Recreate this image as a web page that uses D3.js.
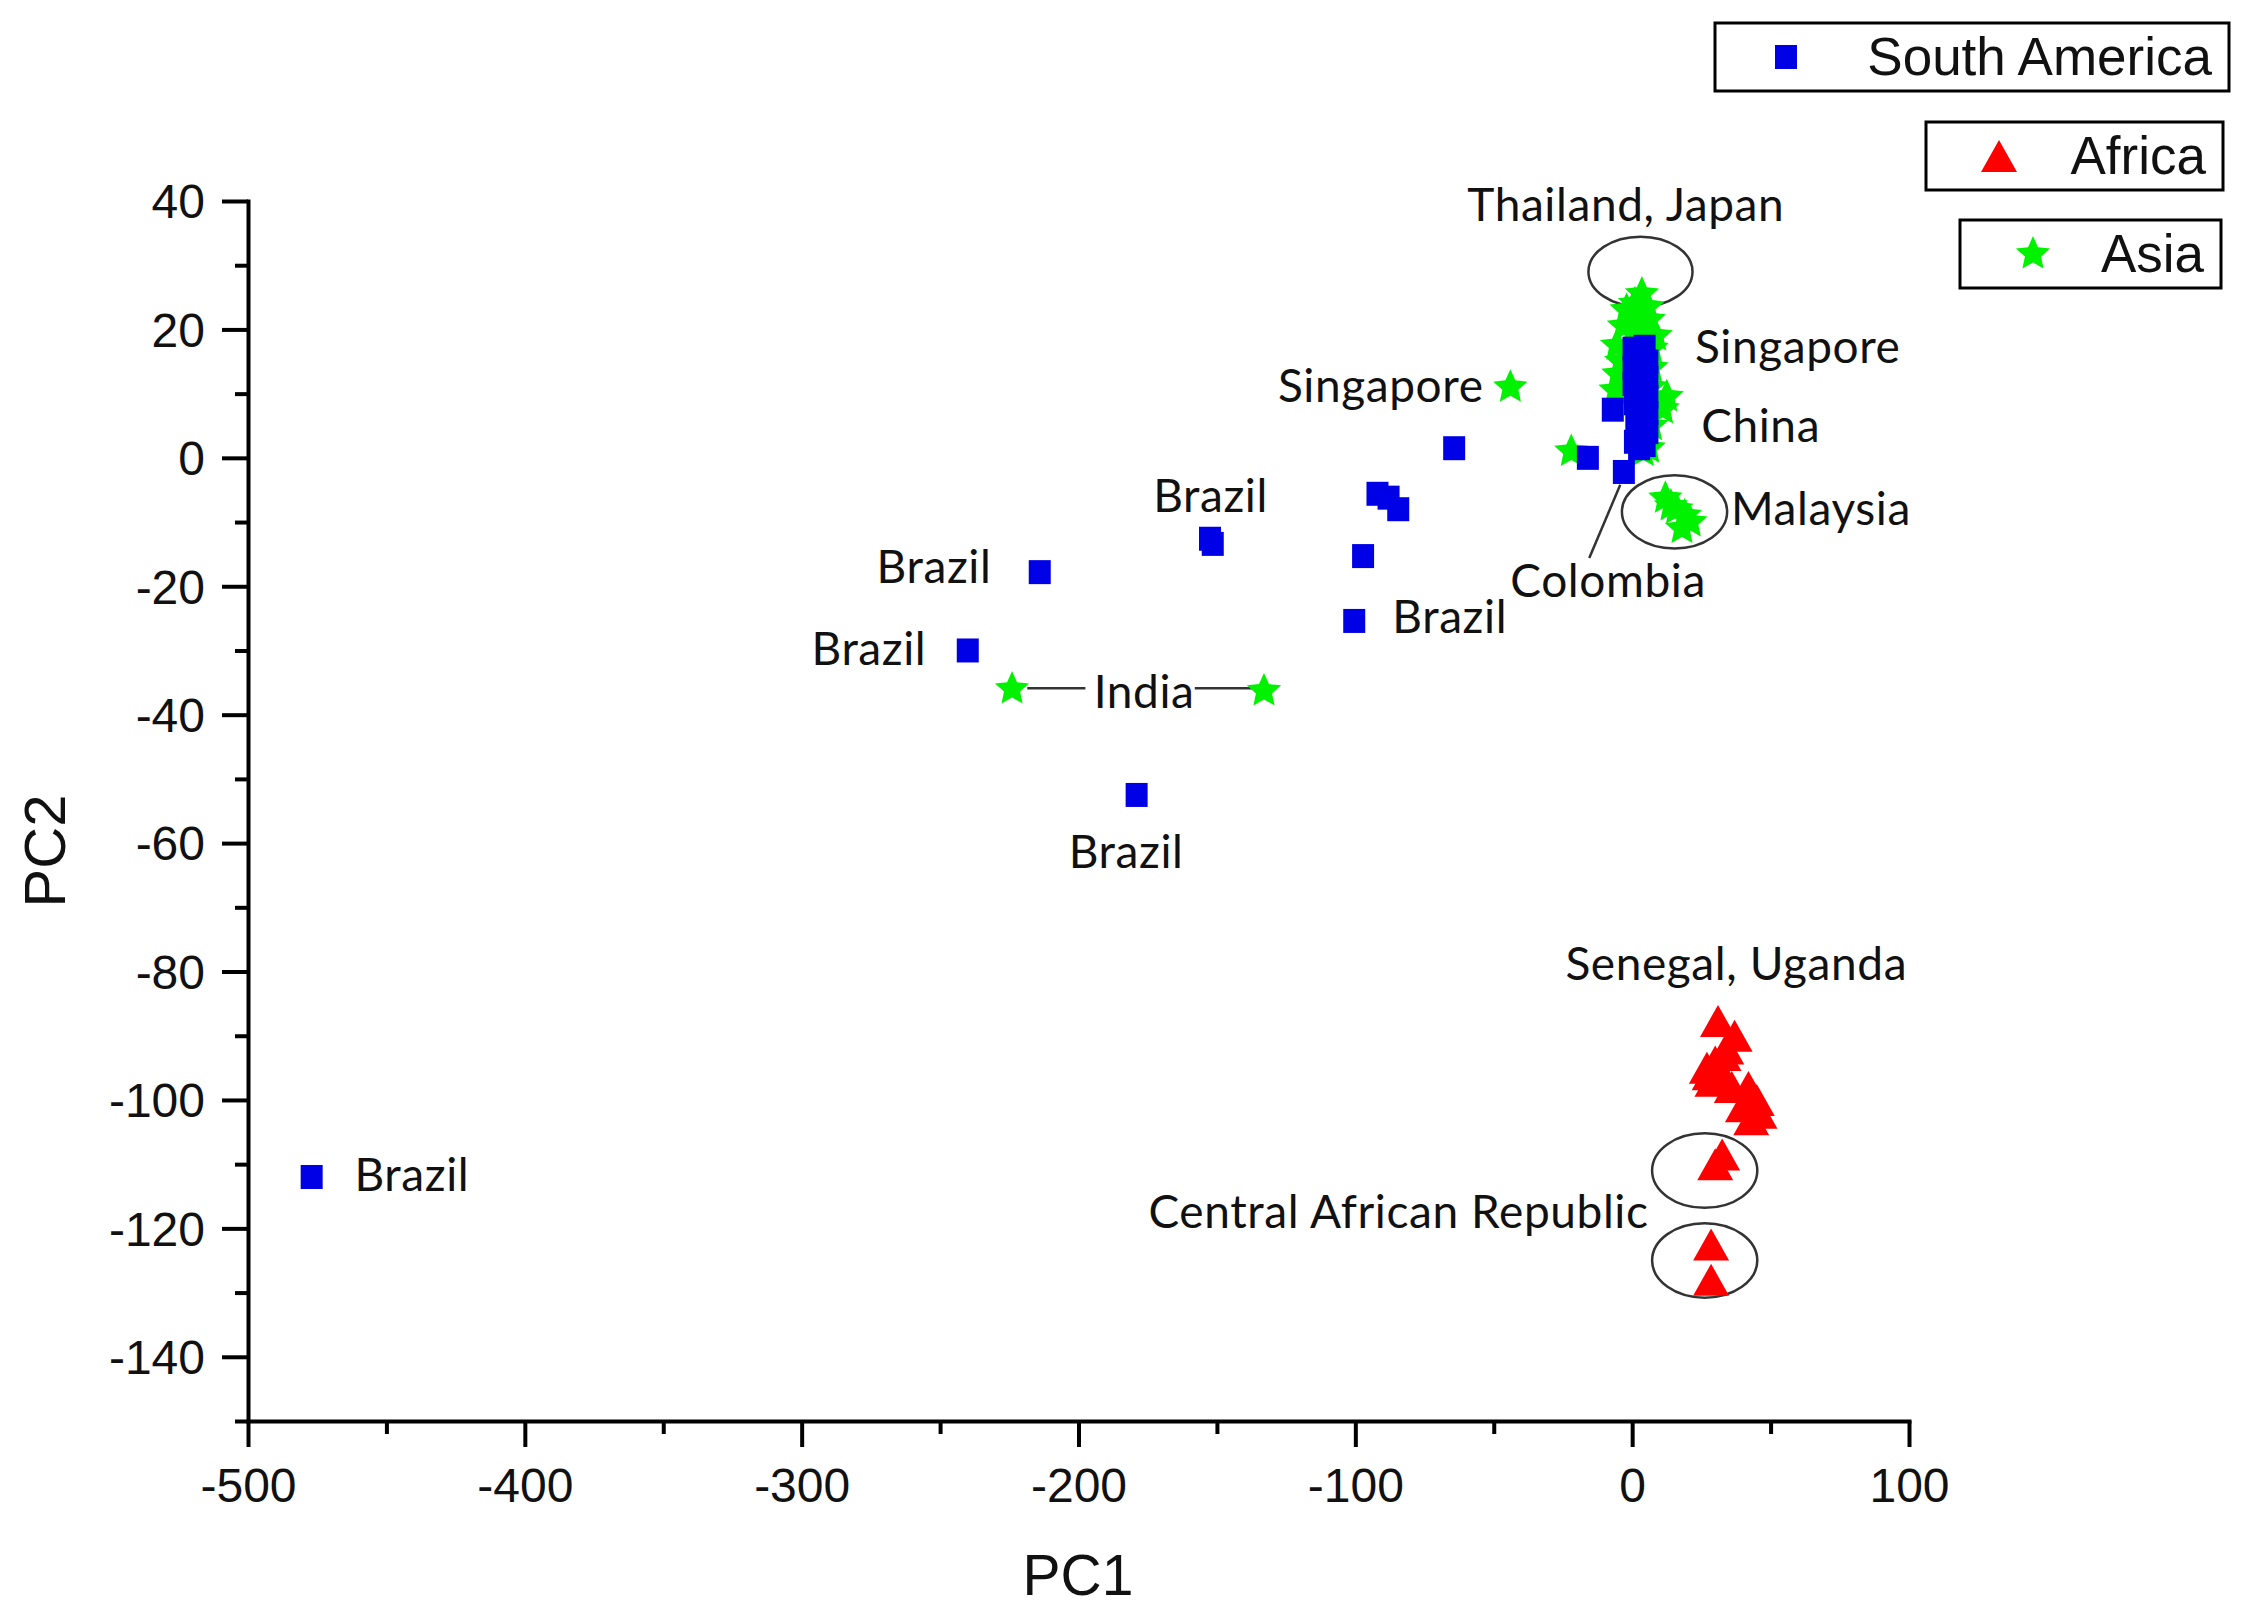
<!DOCTYPE html>
<html>
<head>
<meta charset="utf-8">
<script src="https://cdn.jsdelivr.net/npm/d3@7/dist/d3.min.js"></script>
<style>
  body { margin: 0; background: #fff; }
  .tick text { font-family: "Liberation Sans", Arial, sans-serif; }
</style>
</head>
<body>
<svg id="chart" width="2250" height="1619"></svg>
<script>
// PC1 / PC2 scores
var southAmerica = [
  [-477, -112], [-240, -30], [-214, -17.8], [-179, -52.5],
  [-152.5, -12.6], [-151.5, -13.4], [-100.4, -25.4], [-97.2, -15.3],
  [-92, -5.6], [-88, -6.2], [-84.5, -8], [-64.3, 1.5],
  [-16, 0], [-3, -2.2], [-7, 7.5],
  [0.5, 17], [4.5, 17.3], [2, 15.5], [5.5, 15], [0.5, 14], [3, 13], [5.5, 12.5],
  [0.5, 11.5], [4, 11], [2, 10], [5.5, 9.5], [1, 8.5], [3, 8], [5.5, 7],
  [1.5, 6], [4, 5.5], [2, 4.5], [5.5, 4], [3, 3], [1, 2.5], [4.5, 2], [2.5, 1.5]
];
var africa = [
  [31, -87.7], [37, -90], [34, -92], [30, -94], [27, -95], [29, -97],
  [32, -96], [36, -98], [42, -98], [45, -100], [40, -101], [46, -102],
  [43, -103], [33, -93], [28, -96],
  [32.5, -108.5], [30, -110],
  [28.5, -122.5], [28.5, -128]
];
var asia = [
  [-44, 11], [-22, 1], [-224, -36], [-133, -36.3],
  [12, -6.3], [16, -8], [19, -9], [18, -11], [21, -10], [14, -7.5],
  [3.5, 25.5], [1, 24], [5.5, 23.5], [-2, 23], [2, 22], [6, 21.5],
  [-3, 20.5], [0.5, 20], [4, 19.5], [-5.5, 17.5], [7, 17], [-4, 15],
  [7, 14], [-5, 13], [-6, 10.5], [6.5, 11], [12.5, 9.5], [11, 7.6],
  [7, 5], [6, 1.5], [4, 1], [8.5, 19]
];

var xMajor = [-500, -400, -300, -200, -100, 0, 100];
var xMinor = [-450, -350, -250, -150, -50, 50];
var yMajor = [-140, -120, -100, -80, -60, -40, -20, 0, 20, 40];
var yMinor = [-150, -130, -110, -90, -70, -50, -30, -10, 10, 30];

// annotation text, anchored at its baseline centre (data units)
var labelText = ["Thailand, Japan", "Singapore", "China", "Malaysia", "Colombia",
  "Singapore", "Brazil", "Brazil", "Brazil", "Brazil", "India", "Brazil", "Brazil",
  "Senegal, Uganda", "Central African Republic"];
var labelX = [-2.3, 59.8, 46.4, 68.2, -8.7, -90.8, -152.3, -252.2, -275.7, -65.9,
  -176.3, -182.8, -440.8, 37.6, -84.4];
var labelY = [36.9, 14.8, 2.5, -10.5, -21.7, 8.7, -8.4, -19.5, -32.3, -27.3,
  -39, -63.9, -114.2, -81.3, -120];

// circled groups: centre and radii in data units
var ellipses = [
  [3, 29, 18.8, 5.45],
  [15.3, -8.4, 19, 5.7],
  [26.2, -111, 19, 5.8],
  [26.2, -125, 19, 5.8]
];
// leader lines
var leaders = [
  [[-4.3, -4.2], [-15.5, -15.6]],
  [[-218.5, -35.9], [-197.5, -35.9]],
  [[-158, -35.9], [-137, -35.9]]
];

var seriesNames = ["South America", "Africa", "Asia"];
var colors = { "South America": "#0000e6", "Africa": "#ff0000", "Asia": "#00f200" };

var svg = d3.select("#chart");
var x = d3.scaleLinear().domain([-500, 100]).range([248, 1909]);
var y = d3.scaleLinear().domain([-150, 40]).range([1421, 201]);

function starPath(R) {
  var r = R * 0.47, pts = [];
  for (var i = 0; i < 10; i++) {
    var a = -Math.PI / 2 + i * Math.PI / 5;
    var rr = i % 2 ? r : R;
    pts.push([rr * Math.cos(a), rr * Math.sin(a)]);
  }
  return "M" + pts.map(function(p){ return p[0].toFixed(2) + "," + p[1].toFixed(2); }).join("L") + "Z";
}
var triPath = "M0,-16L18,16L-18,16Z";
var squarePath = "M-11,-12H11V12H-11Z";
var symbols = { "South America": squarePath, "Africa": triPath, "Asia": starPath(18) };
var plainNum = function(d){ return String(d); };   // hyphen minus, like the original

// axes
var axisX = svg.append("g").attr("transform", "translate(0," + y(-150) + ")")
  .call(d3.axisBottom(x).tickValues(xMajor).tickSize(26).tickSizeOuter(0).tickFormat(plainNum));
svg.append("g").attr("transform", "translate(0," + y(-150) + ")")
  .call(d3.axisBottom(x).tickValues(xMinor).tickSize(13).tickFormat(""))
  .select(".domain").remove();
var axisY = svg.append("g").attr("transform", "translate(" + x(-500) + ",0)")
  .call(d3.axisLeft(y).tickValues(yMajor).tickSize(26).tickSizeOuter(0).tickFormat(plainNum));
svg.append("g").attr("transform", "translate(" + x(-500) + ",0)")
  .call(d3.axisLeft(y).tickValues(yMinor).tickSize(13).tickFormat(""))
  .select(".domain").remove();

svg.selectAll(".domain").attr("stroke", "#000").attr("stroke-width", 4).attr("stroke-linecap", "square");
svg.selectAll(".tick line").attr("stroke", "#000").attr("stroke-width", 4);
svg.selectAll(".tick text").attr("font-size", 48).attr("fill", "#111");
axisX.selectAll(".tick text").attr("dy", "0.71em").attr("y", 47);
axisY.selectAll(".tick text").attr("x", -43).attr("dy", "0.35em");

svg.append("text").attr("x", 1078).attr("y", 1595).attr("text-anchor", "middle")
  .attr("font-family", "Liberation Sans, Arial, sans-serif").attr("font-size", 57)
  .attr("fill", "#111").text("PC1");
svg.append("text").attr("transform", "translate(65,851) rotate(-90)").attr("text-anchor", "middle")
  .attr("font-family", "Liberation Sans, Arial, sans-serif").attr("font-size", 58)
  .attr("fill", "#111").text("PC2");

// leader lines and circles
var ann = svg.append("g");
ann.selectAll("line.leader").data(leaders).join("line").attr("class", "leader")
  .attr("x1", function(d){ return x(d[0][0]); }).attr("y1", function(d){ return y(d[0][1]); })
  .attr("x2", function(d){ return x(d[1][0]); }).attr("y2", function(d){ return y(d[1][1]); })
  .attr("stroke", "#333").attr("stroke-width", 2.5);
ann.selectAll("ellipse").data(ellipses).join("ellipse")
  .attr("cx", function(d){ return x(d[0]); }).attr("cy", function(d){ return y(d[1]); })
  .attr("rx", function(d){ return x(d[2]) - x(0); }).attr("ry", function(d){ return y(0) - y(d[3]); })
  .attr("fill", "none").attr("stroke", "#333").attr("stroke-width", 2.5);

// markers
function drawSeries(name, data) {
  svg.append("g").selectAll("path").data(data).join("path")
    .attr("transform", function(d){ return "translate(" + x(d[0]) + "," + y(d[1]) + ")"; })
    .attr("d", symbols[name]).attr("fill", colors[name]);
}
drawSeries("Asia", asia);
drawSeries("South America", southAmerica);
drawSeries("Africa", africa);

// annotation labels
svg.append("g").selectAll("text").data(labelText).join("text")
  .attr("x", function(d, i){ return x(labelX[i]); })
  .attr("y", function(d, i){ return y(labelY[i]); })
  .attr("text-anchor", "middle")
  .attr("font-family", "Lato, sans-serif").attr("font-size", 46)
  .attr("letter-spacing", 0.6).attr("fill", "#111")
  .text(function(d){ return d; });

// legend: one framed box per series
var legendBoxes = [[1715, 23, 514, 68], [1926, 122, 297, 68], [1960, 220, 261, 68]];
var legendMarkX = [1786, 1999, 2033];
var legend = svg.append("g");
seriesNames.forEach(function(name, i) {
  var b = legendBoxes[i];
  legend.append("rect").attr("x", b[0]).attr("y", b[1]).attr("width", b[2]).attr("height", b[3])
    .attr("fill", "#fff").attr("stroke", "#000").attr("stroke-width", 3);
  legend.append("path").attr("transform", "translate(" + legendMarkX[i] + "," + (b[1] + b[3] / 2) + ")")
    .attr("d", symbols[name]).attr("fill", colors[name]);
  legend.append("text").attr("x", b[0] + b[2] - 17).attr("y", b[1] + 52)
    .attr("text-anchor", "end").attr("font-family", "Liberation Sans, Arial, sans-serif")
    .attr("font-size", 53).attr("fill", "#111").text(name);
});
</script>
</body>
</html>
